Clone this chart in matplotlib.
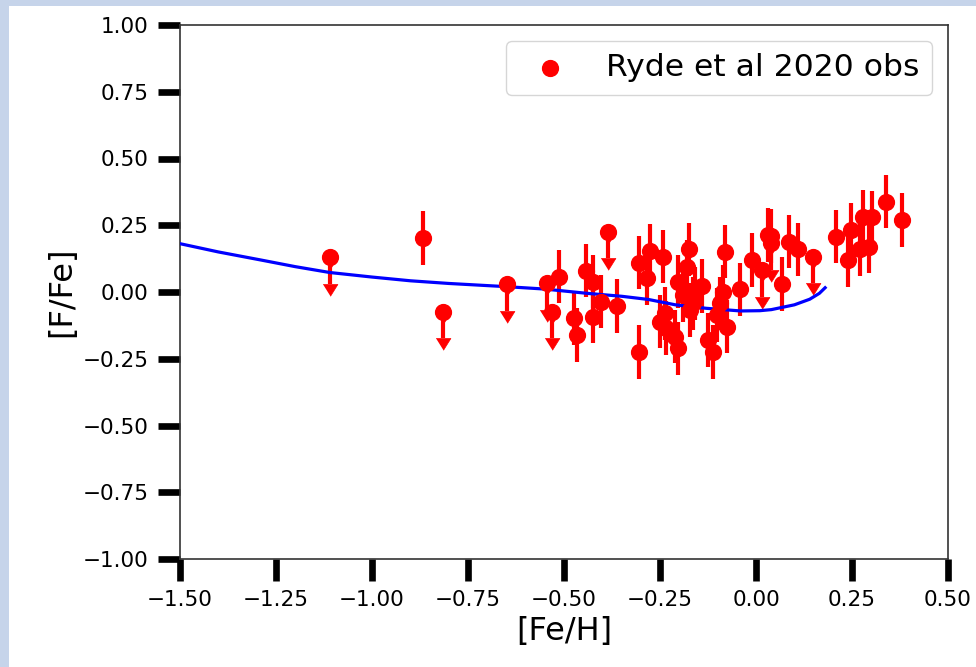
import matplotlib
matplotlib.use('Agg')
import matplotlib.pyplot as plt
from matplotlib.patches import Rectangle
import numpy as np

# Model curve
model_feh = [-1.50, -1.40, -1.29, -1.20, -1.11, -1.00, -0.90, -0.80, -0.65, -0.55,
             -0.44, -0.35, -0.28, -0.21, -0.13, -0.04, 0.01, 0.04, 0.10, 0.14, 0.165, 0.18]
model_ffe = [0.181, 0.150, 0.120, 0.095, 0.073, 0.056, 0.042, 0.032, 0.020, 0.011,
             -0.005, -0.016, -0.028, -0.048, -0.061, -0.071, -0.070, -0.066, -0.048, -0.027, -0.005, 0.016]

# Ryde et al 2020 detections
obs_feh = [-0.867, -0.513, -0.473, -0.465, -0.444, -0.424, -0.404, -0.424, -0.363,
           -0.305, -0.305, -0.275, -0.285, -0.243, -0.250, -0.237, -0.234, -0.211,
           -0.202, -0.202, -0.189, -0.174, -0.180, -0.163, -0.172, -0.141, -0.159,
           -0.124, -0.113, -0.102, -0.087, -0.081, -0.076, -0.094, -0.042, -0.011,
           0.032, 0.039, 0.067, 0.087, 0.109, 0.208, 0.239, 0.247, 0.271, 0.278,
           0.293, 0.301, 0.339, 0.381]
obs_ffe = [0.202, 0.057, -0.099, -0.161, 0.080, 0.039, -0.036, -0.092, -0.052,
           0.110, -0.224, 0.155, 0.051, 0.132, -0.111, -0.080, -0.135, -0.167,
           -0.211, 0.039, -0.011, 0.160, 0.095, -0.042, -0.067, 0.022, -0.005,
           -0.180, -0.224, -0.086, 0.001, 0.151, -0.130, -0.042, 0.010, 0.120,
           0.213, 0.210, 0.030, 0.189, 0.160, 0.207, 0.120, 0.232, 0.160, 0.282,
           0.170, 0.280, 0.338, 0.270]
obs_err = 0.1

# Upper limits
lim_feh = [-1.109, -0.816, -0.649, -0.545, -0.532, -0.385, 0.015, 0.039, 0.148]
lim_ffe = [0.130, -0.074, 0.030, 0.032, -0.074, 0.226, 0.082, 0.182, 0.132]

fig = plt.figure(figsize=(9.76, 6.67), dpi=100)
fig.patch.set_facecolor('#c6d4ea')
fig.patches.append(Rectangle((9 / 976, 0), 1, 1 - 6 / 667, transform=fig.transFigure,
                             facecolor='white', edgecolor='none', zorder=-10))
ax = fig.add_axes([180 / 976, 1 - 559 / 667, 768 / 976, 534 / 667])

ax.plot(model_feh, model_ffe, color='blue', lw=2.3, zorder=3)

ax.errorbar(obs_feh, obs_ffe, yerr=obs_err, fmt='none', ecolor='red',
            elinewidth=3, capsize=0, zorder=2)
ax.scatter(obs_feh, obs_ffe, s=130, color='red', zorder=4, label='Ryde et al 2020 obs')

eb = ax.errorbar(lim_feh, lim_ffe, yerr=obs_err, uplims=True, fmt='none', ecolor='red',
                 elinewidth=3, capsize=4, zorder=2)
# filled arrow heads hanging below the end of each limit bar
arrow = [(-1, 0), (1, 0), (0, -1.6)]
for cl in eb[1]:
    cl.set_marker(arrow)
    cl.set_markersize(17)
    cl.set_markerfacecolor('red')
    cl.set_markeredgecolor('red')
    cl.set_markeredgewidth(0.5)
ax.scatter(lim_feh, lim_ffe, s=130, color='red', zorder=4)

ax.set_xlim(-1.5, 0.5)
ax.set_ylim(-1.0, 1.0)
ax.set_xticks(np.arange(-1.5, 0.51, 0.25))
ax.set_yticks(np.arange(-1.0, 1.01, 0.25))
ax.tick_params(length=16, width=4.8, labelsize=15.5, pad=6.5)
for s in ax.spines.values():
    s.set_linewidth(1.2)
    s.set_color('#333333')

ax.set_xlabel('[Fe/H]', fontsize=23)
ax.set_ylabel('[F/Fe]', fontsize=23)
ax.legend(loc='upper right', fontsize=22.6, scatterpoints=1)

fig.savefig('out.png', dpi=100)
